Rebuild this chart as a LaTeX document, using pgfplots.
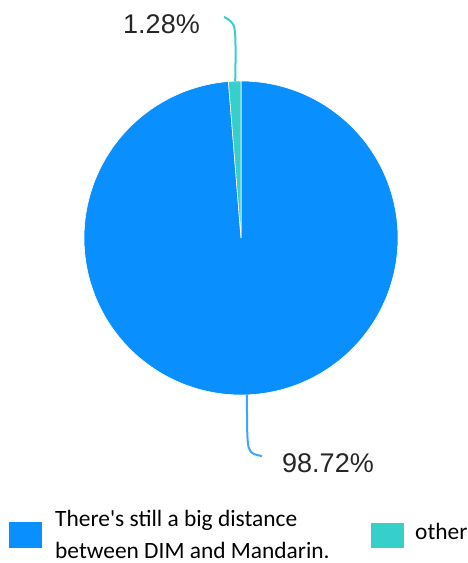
\documentclass[border=0pt]{standalone}
\usepackage{pgfplots}
\pgfplotsset{compat=1.18}
\usepackage{pgfplotstable}
\usepackage{fontspec}
\setmainfont{Carlito}
\newfontfamily\pctfont{Liberation Sans}
\definecolor{pieblue}{HTML}{0A8FFF}
\definecolor{pieteal}{HTML}{36CFC9}
\definecolor{lineblue}{HTML}{3DA5FF}
\pgfplotstableread{
label value
dim 98.72
other 1.28
}\piedata
\pgfplotstablegetelem{0}{value}\of\piedata
\let\valA\pgfplotsretval
\pgfplotstablegetelem{1}{value}\of\piedata
\let\valB\pgfplotsretval
% slices run clockwise from the top
\pgfmathsetmacro{\endA}{90}
\pgfmathsetmacro{\startA}{90-\valA*3.6}
\pgfmathsetmacro{\startB}{90}
\pgfmathsetmacro{\endB}{90+\valB*3.6}
\begin{document}
\begin{tikzpicture}
\begin{axis}[
  width=468pt, height=563pt, scale only axis,
  xmin=0, xmax=468, ymin=0, ymax=563,
  hide axis, clip=false,
]
\path (axis cs:0,0) rectangle (axis cs:468,563);
% slices (centre 241,325; radius 157)
\addplot[fill=pieblue, draw=white, line width=0.6pt, domain=\startA:\endA, samples=300, smooth]
  ({241+157*cos(x)},{325+157*sin(x)}) -- (axis cs:241,325) -- cycle;
\addplot[fill=pieteal, draw=white, line width=0.6pt, domain=\startB:\endB, samples=20]
  ({241+157*cos(x)},{325+157*sin(x)}) -- (axis cs:241,325) -- cycle;
% leader lines
\addplot[pieteal, line width=2pt, smooth, tension=0.6] coordinates {(235.2,482) (235.5,518) (233.5,538) (224,546)};
\addplot[lineblue, line width=2pt, smooth, tension=0.6] coordinates {(247,168) (247.5,125) (251,111) (262,107)};
% labels
\node[font=\pctfont\fontsize{27}{30}\selectfont, text=black!85, anchor=center] at (axis cs:161.5,539) {1.28\%};
\node[font=\pctfont\fontsize{27}{30}\selectfont, text=black!85, anchor=center] at (axis cs:328,100) {98.72\%};
% legend
\fill[pieblue] (axis cs:9,15) rectangle (axis cs:42,41);
\fill[pieteal] (axis cs:371,15) rectangle (axis cs:404,40);
\node[font=\fontsize{23.4}{32}\selectfont, text=black, anchor=west, align=left, inner sep=0pt] at (axis cs:55,29) {There\textquotesingle s still a big distance\\between DIM and Mandarin.};
\node[font=\fontsize{23.4}{28}\selectfont, text=black, anchor=west, inner sep=0pt] at (axis cs:415,32) {other};
\end{axis}
\end{tikzpicture}
\end{document}
